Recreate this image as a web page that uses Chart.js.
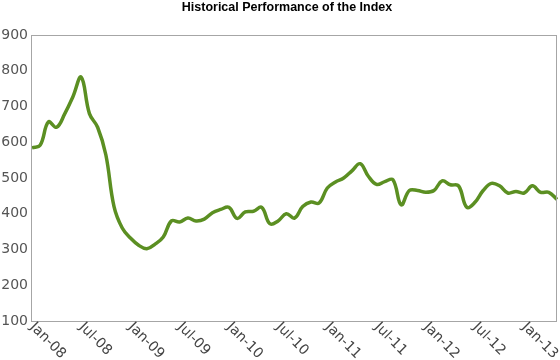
<!DOCTYPE html>
<html>
<head>
<meta charset="utf-8">
<script src="https://cdn.jsdelivr.net/npm/chart.js@4.4.0/dist/chart.umd.min.js"></script>
<style>
  html, body { margin: 0; padding: 0; background: #fff; }
</style>
</head>
<body>
<canvas id="myChart" width="560" height="360"></canvas>
<script>
const chartTitle = 'Historical Performance of the Index'
const monthNames = ['Jan', 'Feb', 'Mar', 'Apr', 'May', 'Jun', 'Jul', 'Aug', 'Sep', 'Oct', 'Nov', 'Dec']
const years = ['08', '09', '10', '11', '12', '13']
const tickLabels = ['Jan-08', 'Jul-08', 'Jan-09', 'Jul-09', 'Jan-10', 'Jul-10', 'Jan-11', 'Jul-11', 'Jan-12', 'Jul-12', 'Jan-13']
const yTicks = [100, 200, 300, 400, 500, 600, 700, 800, 900]

// monthly index level, Jan-08 .. May-13
const indexValues = [
    584, 592, 657, 642, 680, 728, 782, 680, 642, 565, 420, 360,
    332, 312, 302, 315, 335, 380, 377, 388, 380, 385, 403, 412,
    418, 387, 405, 407, 418, 372, 380, 400, 388, 420, 433, 430,
    472, 489, 500, 520, 540, 505, 482, 490, 495, 425, 465, 465,
    460, 465, 492, 481, 478, 418, 432, 465, 485, 478, 458, 462,
    458, 478, 460, 460, 440
]

const months = []
years.forEach(yy => {
    monthNames.forEach(m => {
        if (months.length < indexValues.length) months.push(`${m}-${yy}`)
    })
})

const frameAndLabels = {
    id: 'frameAndLabels',
    afterDraw(chart) {
        const { ctx, chartArea, scales } = chart
        ctx.save()
        ctx.strokeStyle = '#a6a6a6'
        ctx.lineWidth = 1
        ctx.strokeRect(chartArea.left - 0.5, chartArea.top + 0.5, chartArea.right - chartArea.left, chartArea.bottom - chartArea.top)

        // title
        ctx.fillStyle = '#000000'
        ctx.font = 'bold 12.5px "Liberation Sans", Arial, sans-serif'
        ctx.textAlign = 'center'
        ctx.textBaseline = 'alphabetic'
        ctx.fillText(chartTitle, 287, 10.5)

        // rotated x labels
        ctx.fillStyle = '#444444'
        ctx.font = '14px "DejaVu Sans"'
        ctx.textAlign = 'left'
        ctx.textBaseline = 'middle'
        months.forEach((label, i) => {
            if (!tickLabels.includes(label)) return
            const x = scales.x.getPixelForValue(i)
            ctx.save()
            ctx.translate(x, chartArea.bottom + 4)
            ctx.rotate(Math.PI / 4)
            ctx.fillText(label, 0, 0)
            ctx.restore()
        })
        ctx.restore()
    }
}

const ctx = document.getElementById('myChart').getContext('2d')
const myChart = new Chart(ctx, {
    type: 'line',
    data: {
        labels: months,
        datasets: [{
            label: 'Index',
            data: indexValues,
            borderColor: '#5b8f22',
            borderWidth: 3.5,
            pointRadius: 0,
            tension: 0.4,
            fill: false
        }]
    },
    options: {
        responsive: false,
        animation: false,
        layout: {
            padding: { left: 0, right: 3, top: 35, bottom: 39 }
        },
        plugins: {
            legend: { display: false },
            tooltip: { enabled: false },
            title: { display: false }
        },
        scales: {
            x: {
                offset: false,
                grid: { display: false, drawTicks: false },
                border: { display: false },
                ticks: { display: false }
            },
            y: {
                min: 100,
                max: 900,
                afterFit: (scale) => { scale.width = 32 },
                afterBuildTicks: (scale) => { scale.ticks = yTicks.map(v => ({ value: v })) },
                grid: { display: false, drawTicks: false },
                border: { display: false },
                ticks: {
                    padding: 4,
                    color: '#555555',
                    font: { family: '"DejaVu Sans"', size: 14 }
                }
            }
        }
    },
    plugins: [frameAndLabels]
})
</script>
</body>
</html>
